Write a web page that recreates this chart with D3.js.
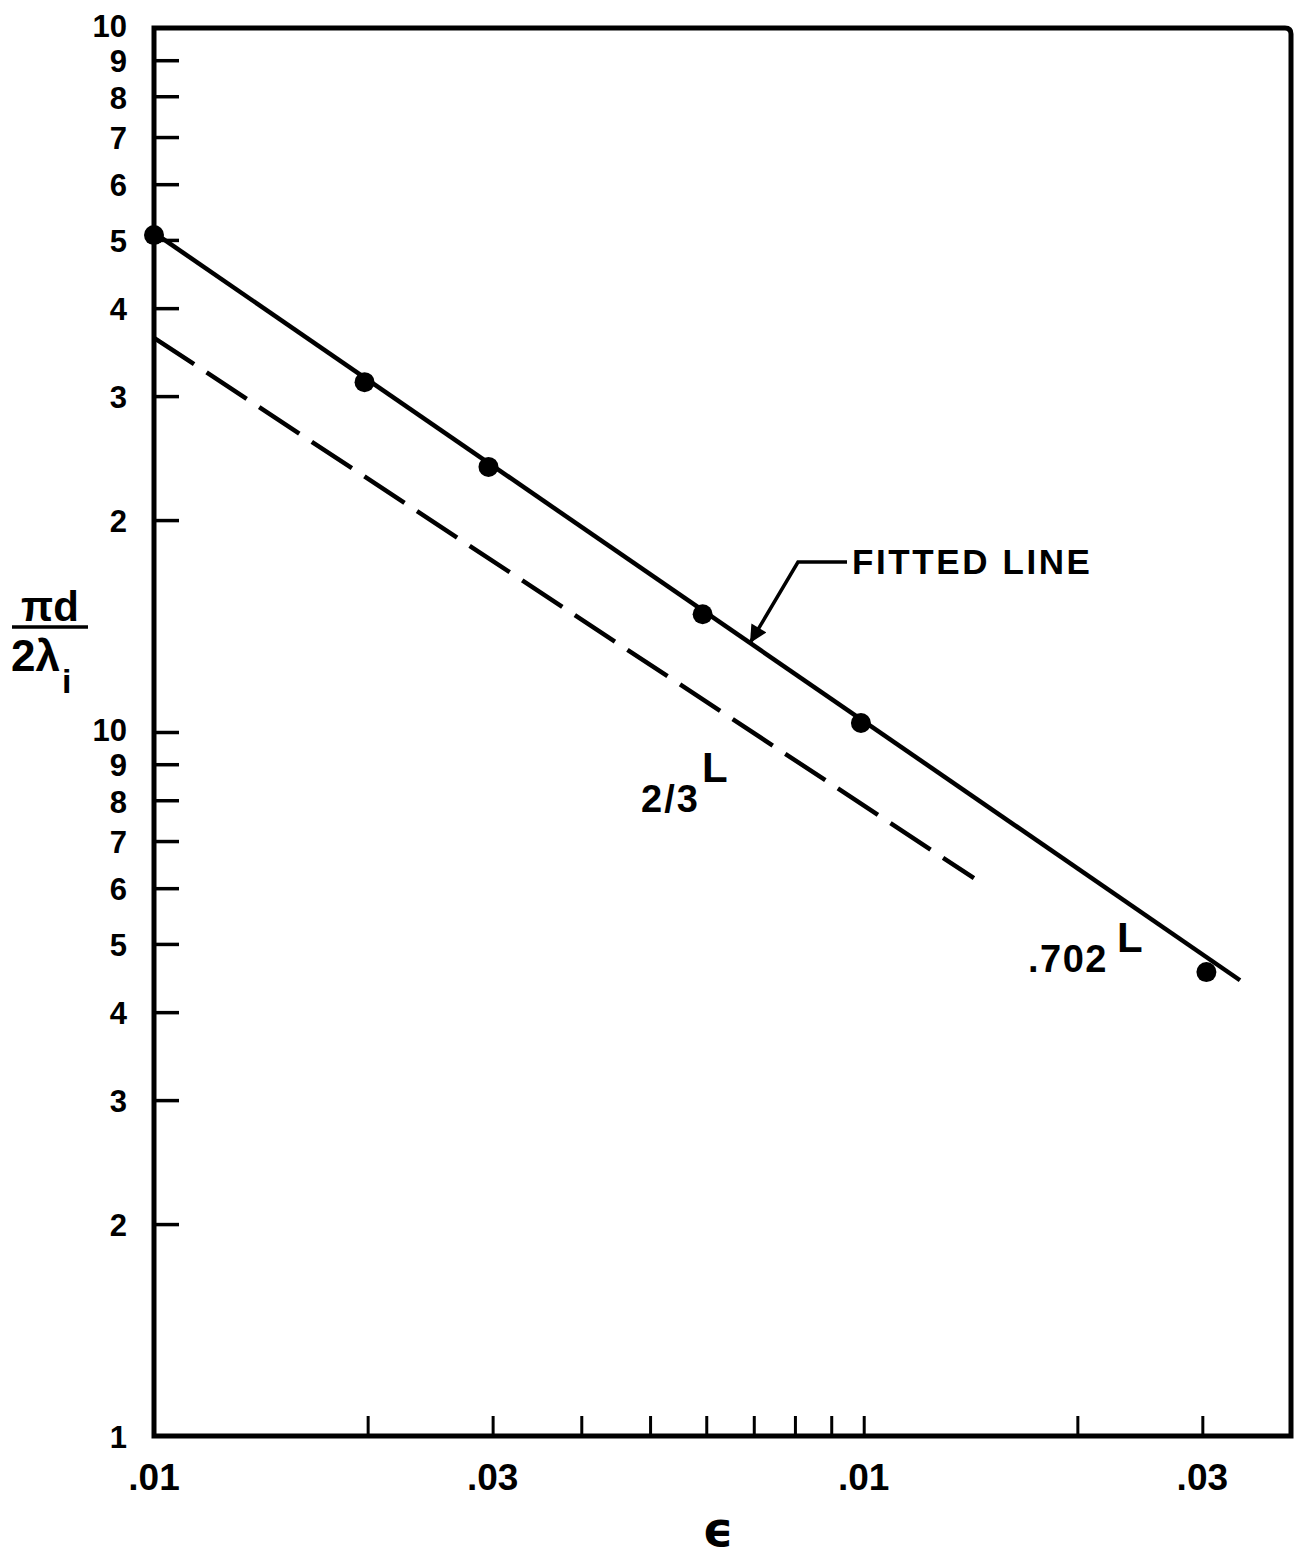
<!DOCTYPE html>
<html>
<head>
<meta charset="utf-8">
<script src="https://cdn.jsdelivr.net/npm/d3@7"></script>
<style>
  body { margin: 0; background: #fff; }
  text { font-family: "Liberation Sans", Arial, sans-serif; font-weight: bold; fill: #000; }
</style>
</head>
<body>
<script>
// measured points (epsilon vs pi d / 2 lambda_i)
var epsilon = [0.01, 0.0198, 0.0296, 0.0593, 0.0991, 0.304];
var ratio = [50.8, 31.4, 23.8, 14.7, 10.3, 4.56];

// fitted line (slope .702) and the 2/3 reference line, end points
var fitEps = [0.01, 0.339];
var fitRatio = [51.2, 4.44];
var refEps = [0.01, 0.143];
var refRatio = [36.3, 6.2];

// axis ticks and labels (as printed on the original)
var xTicks = [0.02, 0.03, 0.04, 0.05, 0.06, 0.07, 0.08, 0.09, 0.1, 0.2, 0.3];
var xLabelVals = [0.01, 0.03, 0.1, 0.3];
var xLabels = [".01", ".03", ".01", ".03"];
var yTicks = [1, 2, 3, 4, 5, 6, 7, 8, 9, 10, 20, 30, 40, 50, 60, 70, 80, 90, 100];
var yLabels = ["1", "2", "3", "4", "5", "6", "7", "8", "9", "10",
               "2", "3", "4", "5", "6", "7", "8", "9", "10"];

var svgW = 1300, svgH = 1559;
var pLeft = 154, pRight = 1291, pTop = 28, pBottom = 1436;

var svg = d3.select("body").append("svg")
    .attr("width", svgW)
    .attr("height", svgH);

var x = d3.scaleLog().domain([0.01, 0.4]).range([pLeft, pRight]);
var y = d3.scaleLog().domain([1, 100]).range([pBottom, pTop]);

// y axis: ticks point into the plot
var yAxis = svg.append("g")
    .attr("transform", "translate(" + pLeft + ",0)")
    .call(d3.axisLeft(y).tickValues(yTicks).tickSize(-25).tickSizeOuter(0).tickPadding(27)
      .tickFormat(function(d, i) { return yLabels[i]; }));
yAxis.select(".domain").remove();
yAxis.selectAll(".tick line")
    .attr("stroke-width", 3.5)
    .filter(function(d) { return d === 1 || d === 100; }).remove();
yAxis.selectAll(".tick text")
    .style("font-size", "31px")
    .attr("dy", function(d) { return (d === 10 || d === 100) ? "0.26em" : "0.38em"; });

// x axis: ticks point up
var xAxis = svg.append("g")
    .attr("transform", "translate(0," + pBottom + ")")
    .call(d3.axisBottom(x).tickValues(xTicks).tickSize(-20).tickSizeOuter(0).tickFormat(""));
xAxis.select(".domain").remove();
xAxis.selectAll(".tick line").attr("stroke-width", 3);

svg.append("g").selectAll("text")
    .data(xLabelVals)
    .enter().append("text")
      .attr("x", function(d) { return x(d); })
      .attr("y", pBottom + 54)
      .attr("text-anchor", "middle")
      .style("font-size", "37px")
      .text(function(d, i) { return xLabels[i]; });

// frame
svg.append("path")
    .attr("d", "M" + pLeft + "," + pTop + "H" + (pRight - 6) + "Q" + pRight + "," + pTop + " " + pRight + "," + (pTop + 6) +
               "V" + pBottom + "H" + pLeft + "Z")
    .attr("fill", "none")
    .attr("stroke", "#000")
    .attr("stroke-width", 5);

var line = d3.line()
    .x(function(d) { return x(d[0]); })
    .y(function(d) { return y(d[1]); });

// dashed 2/3 line
svg.append("path")
    .datum(d3.zip(refEps, refRatio))
    .attr("d", line)
    .attr("fill", "none")
    .attr("stroke", "#000")
    .attr("stroke-width", 4.5)
    .attr("stroke-dasharray", "48,15");

// fitted line
svg.append("path")
    .datum(d3.zip(fitEps, fitRatio))
    .attr("d", line)
    .attr("fill", "none")
    .attr("stroke", "#000")
    .attr("stroke-width", 4.5);

// data points
svg.selectAll(".pt")
    .data(d3.zip(epsilon, ratio))
    .enter().append("circle")
      .attr("class", "pt")
      .attr("cx", function(d) { return x(d[0]); })
      .attr("cy", function(d) { return y(d[1]); })
      .attr("r", 10)
      .attr("fill", "#000");

// FITTED LINE callout
svg.append("defs").append("marker")
    .attr("id", "arrow")
    .attr("viewBox", "0 0 10 10")
    .attr("refX", 10).attr("refY", 5)
    .attr("markerWidth", 7).attr("markerHeight", 5)
    .attr("markerUnits", "strokeWidth")
    .attr("orient", "auto")
  .append("path")
    .attr("d", "M0,0L10,5L0,10Z");

svg.append("path")
    .attr("d", "M847,562H798L750,643")
    .attr("fill", "none")
    .attr("stroke", "#000")
    .attr("stroke-width", 3.5)
    .attr("marker-end", "url(#arrow)");

svg.append("text")
    .attr("x", 852).attr("y", 574)
    .style("font-size", "35px")
    .style("letter-spacing", "2.6px")
    .text("FITTED LINE");

// slope labels
svg.append("text").attr("x", 641).attr("y", 812).style("font-size", "38px")
    .style("letter-spacing", "2px").text("2/3");
svg.append("text").attr("x", 702).attr("y", 782).style("font-size", "42px").text("L");
svg.append("text").attr("x", 1028).attr("y", 972).style("font-size", "38px")
    .style("letter-spacing", "1.5px").text(".702");
svg.append("text").attr("x", 1117).attr("y", 952).style("font-size", "42px").text("L");

// y axis title: pi d / 2 lambda_i
svg.append("text").attr("x", 50).attr("y", 621).attr("text-anchor", "middle")
    .style("font-size", "42px").text("πd");
svg.append("line").attr("x1", 12).attr("x2", 88).attr("y1", 627).attr("y2", 627)
    .attr("stroke", "#000").attr("stroke-width", 3.5);
var lam = svg.append("text").attr("x", 11).attr("y", 671).style("font-size", "44px").text("2λ");
var lamEnd = 11 + lam.node().getComputedTextLength();
svg.append("text").attr("x", lamEnd + 2).attr("y", 693).style("font-size", "34px").text("i");

// x axis title
svg.append("text").attr("x", 718).attr("y", 1546).attr("text-anchor", "middle")
    .style("font-family", "DejaVu Sans").style("font-size", "48px").text("ϵ");
</script>
</body>
</html>
